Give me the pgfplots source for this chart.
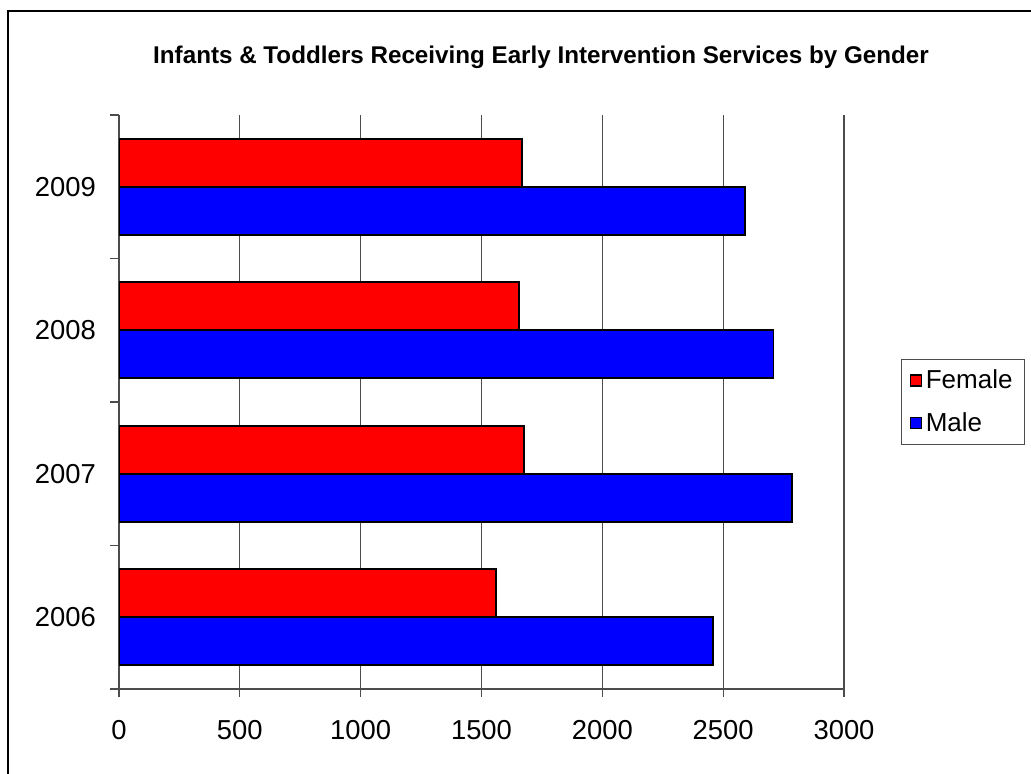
\documentclass[border=0pt]{standalone}
\usepackage{pgfplots}
\pgfplotsset{compat=1.18}
\usepackage{fontspec}
\setmainfont{Liberation Sans}
\begin{document}
\begin{tikzpicture}
\useasboundingbox (0,0) rectangle (515.5pt,387pt);
\draw[line width=1pt] (4pt,0) -- (4pt,381.5pt) -- (515.5pt,381.5pt);
\node[font=\bfseries\fontsize{12.1}{14}\selectfont] at (270.5pt,358.5pt) {Infants \& Toddlers Receiving Early Intervention Services by Gender};
\begin{axis}[
  at={(59.5pt,42.5pt)}, anchor=south west,
  scale only axis, width=362.5pt, height=287pt,
  xbar, bar width=0.334,
  xmin=0, xmax=3000, ymin=-0.5, ymax=3.5,
  xtick={0,500,...,3000},
  ytick={0,1,2,3}, yticklabels={2006,2007,2008,2009},
  minor ytick={-0.5,0.5,1.5,2.5,3.5},
  axis x line*=bottom, axis y line*=left,
  axis line style={black!70, line width=0.6pt},
  tick align=outside,
  major tick length=4pt, minor tick length=4.5pt,
  major y tick style={draw=none},
  minor y tick style={draw=black!70, line width=0.6pt},
  major x tick style={draw=black!70, line width=0.6pt},
  xmajorgrids, major grid style={black!70, line width=0.6pt},
  tick label style={font=\fontsize{13.7}{15}\selectfont},
  xticklabel style={yshift=-8pt},
  yticklabel style={xshift=-4pt},
  /pgf/number format/assume math mode=true,
  /pgf/number format/1000 sep={},
  legend style={at={(1.0786,0.5749)}, anchor=north west, draw=black!70, line width=0.6pt,
    font=\fontsize{13}{15}\selectfont, row sep=6.5pt, inner xsep=4pt, inner ysep=3pt},
  legend cell align=left,
  legend image code/.code={\draw[#1, line width=0.6pt] (0pt,-2.75pt) rectangle (5.5pt,2.75pt);},
]
\addplot[fill={rgb,255:red,255;green,0;blue,0}, draw=black, line width=0.9pt, bar shift=0.167] coordinates {(1561,0) (1676,1) (1655,2) (1666,3)};
\addplot[fill={rgb,255:red,0;green,0;blue,255}, draw=black, line width=0.9pt, bar shift=-0.167] coordinates {(2459,0) (2786,1) (2708,2) (2590,3)};
\legend{Female,Male}
\end{axis}
\end{tikzpicture}
\end{document}
